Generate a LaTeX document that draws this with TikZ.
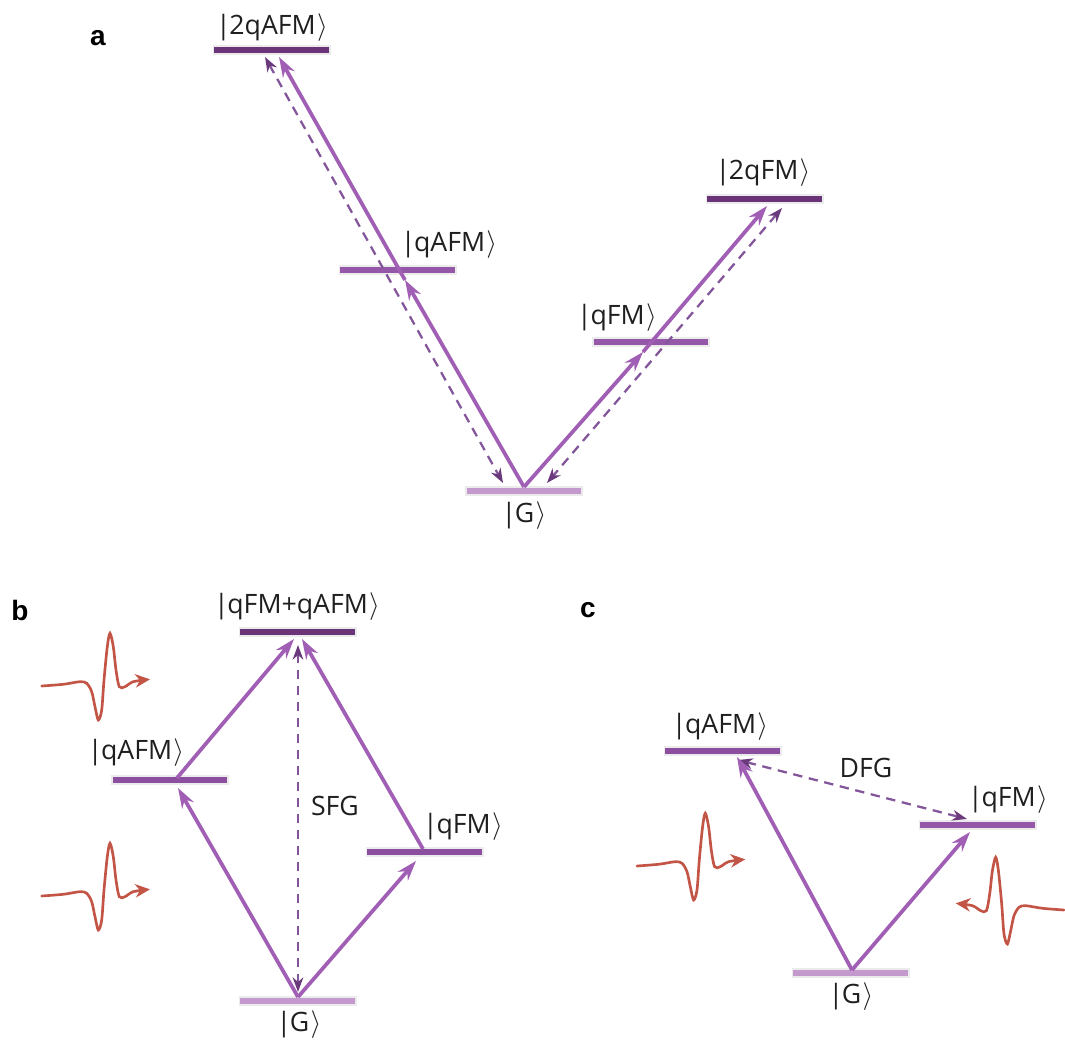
\documentclass[tikz,border=0pt]{standalone}
\usepackage{fontspec}
\setmainfont{Open Sans}
\newfontfamily\panelfont{Liberation Sans}
\usetikzlibrary{arrows.meta}
\definecolor{bardark}{HTML}{6B3479}
\definecolor{barmid}{HTML}{9557A8}
\definecolor{barmd}{HTML}{8C4E9F}
\definecolor{barlight}{HTML}{C49ACE}
\definecolor{arrowc}{HTML}{A05FB4}
\definecolor{dashc}{HTML}{83559A}
\definecolor{dashtip}{HTML}{6A3A7C}
\definecolor{pulsec}{HTML}{C35546}
\newcommand{\ket}[1]{|\kern-1pt#1\kern1pt$\big\rangle$}
\tikzset{
  bar/.style={rectangle, inner sep=0pt, minimum width=86pt, minimum height=4.6pt,
    fill=#1, preaction={draw=black, draw opacity=0.08, line width=2.5pt}},
  lvl/.style={font=\fontsize{20}{23}\selectfont, inner sep=0pt, text=black!88},
  panel/.style={font=\panelfont\bfseries\fontsize{21}{24}\selectfont, inner sep=0pt},
  solidarrow/.style={draw=arrowc, line width=2.8pt,
    -{Stealth[length=15pt,width=10pt,inset=5pt]}},
  dasharrow/.style={draw=dashc, line width=1.7pt, dash pattern=on 7pt off 5pt,
    {Stealth[length=11pt,width=8pt,inset=3.5pt,color=dashtip]}-{Stealth[length=11pt,width=8pt,inset=3.5pt,color=dashtip]}},
  pulseline/.style={draw=pulsec, line width=2pt, line cap=round,
    -{Stealth[length=11pt,width=10pt,inset=3.5pt]}},
  pulse/.pic={\draw[pulseline] plot[smooth,tension=0.5] coordinates
    {(0,0) (21.6,-1.7) (38.3,-4.3) (45,-2.7) (50,5.7) (53.3,20.7) (56.6,34) (60,24)
     (62.3,-6) (65.6,-39.3) (68.3,-52.7) (71.6,-39.3) (74.3,-16) (77.6,0.7) (83.3,0.7)
     (91.6,-4.3) (108.3,-6.7)};}
}
\begin{document}
\begin{tikzpicture}[x=0.75pt,y=-0.75pt]
\useasboundingbox (0,0) rectangle (1065,1044);

% ---------- panel a ----------
\node[panel] (pa) at (98,38) {a};
\node[bar=bardark]  (a2qAFM) at (271.5,50) {};
\node[bar=barmid]   (aqAFM)  at (397.5,270) {};
\node[bar=barmid]   (aqFM)   at (651,342) {};
\node[bar=bardark]  (a2qFM)  at (764.5,199) {};
\node[bar=barlight] (aG)     at (524,491) {};
\node[lvl] (la2qAFM) at (272,28) {\ket{2qAFM}};
\node[lvl] (laqAFM)  at (449,245) {\ket{qAFM}};
\node[lvl] (laqFM)   at (617,318) {\ket{qFM}};
\node[lvl] (la2qFM)  at (763,173) {\ket{2qFM}};
\node[lvl] (laG)     at (524,516) {\ket{G}};

\coordinate (aV)   at (524,487);
\coordinate (aL1)  at (405,280);
\coordinate (aL2)  at (279,57);
\coordinate (aDL1) at (265,57);
\coordinate (aDL2) at (503,483);
\coordinate (aR1)  at (643,352);
\coordinate (aR2)  at (767,206);
\coordinate (aDR1) at (782,208);
\coordinate (aDR2) at (547,483);

\draw[dasharrow] (aDL1) -- (aDL2);
\draw[dasharrow] (aDR1) -- (aDR2);
\draw[solidarrow] (aV) -- (aL1);
\draw[solidarrow] (aL1) -- (aL2);
\draw[solidarrow] (aV) -- (aR1);
\draw[solidarrow] (aR1) -- (aR2);

% ---------- panel b ----------
\node[panel] (pb) at (20,610) {b};
\node[bar=bardark]  (btop)  at (297.5,632) {};
\node[bar=barmd]    (bqAFM) at (170,780) {};
\node[bar=barmd]    (bqFM)  at (424.5,852) {};
\node[bar=barlight] (bG)    at (297.5,1001) {};
\node[lvl] (lbtop)  at (297,607) {\ket{qFM+qAFM}};
\node[lvl] (lbqAFM) at (136,753) {\ket{qAFM}};
\node[lvl] (lbqFM)  at (463,827) {\ket{qFM}};
\node[lvl] (lbG)    at (299,1025) {\ket{G}};
\node[lvl] (lSFG)   at (335,806) {SFG};

\coordinate (bV)   at (298,997);
\coordinate (bA1)  at (178,788);
\coordinate (bA0)  at (177,778);
\coordinate (bT1)  at (294,639);
\coordinate (bT2)  at (302,639);
\coordinate (bF1)  at (416,861);
\coordinate (bF0)  at (423,849);
\coordinate (bD1)  at (298,645);
\coordinate (bD2)  at (298,992);

\draw[dasharrow] (bD1) -- (bD2);
\draw[solidarrow] (bV) -- (bA1);
\draw[solidarrow] (bA0) -- (bT1);
\draw[solidarrow] (bV) -- (bF1);
\draw[solidarrow] (bF0) -- (bT2);

\pic at (41.7,686) {pulse};
\pic at (41.7,896) {pulse};

% ---------- panel c ----------
\node[panel] (pc) at (588,610) {c};
\node[bar=barmd]    (cqAFM) at (722.5,751) {};
\node[bar=barmid]   (cqFM)  at (977.5,825) {};
\node[bar=barlight] (cG)    at (850.5,973) {};
\node[lvl] (lcqAFM) at (720,727) {\ket{qAFM}};
\node[lvl] (lcqFM)  at (1008,800) {\ket{qFM}};
\node[lvl] (lcG)    at (851,997) {\ket{G}};
\node[lvl] (lDFG)   at (866,768) {DFG};

\coordinate (cV)  at (852,970);
\coordinate (cA)  at (737,757);
\coordinate (cF)  at (970,832);
\coordinate (cD1) at (738,760);
\coordinate (cD2) at (967,819);

\draw[dasharrow] (cD1) -- (cD2);
\draw[solidarrow] (cV) -- (cA);
\draw[solidarrow] (cV) -- (cF);

\pic at (637,866) {pulse};
\pic[xscale=-1] at (1064,910) {pulse};
\end{tikzpicture}
\end{document}
